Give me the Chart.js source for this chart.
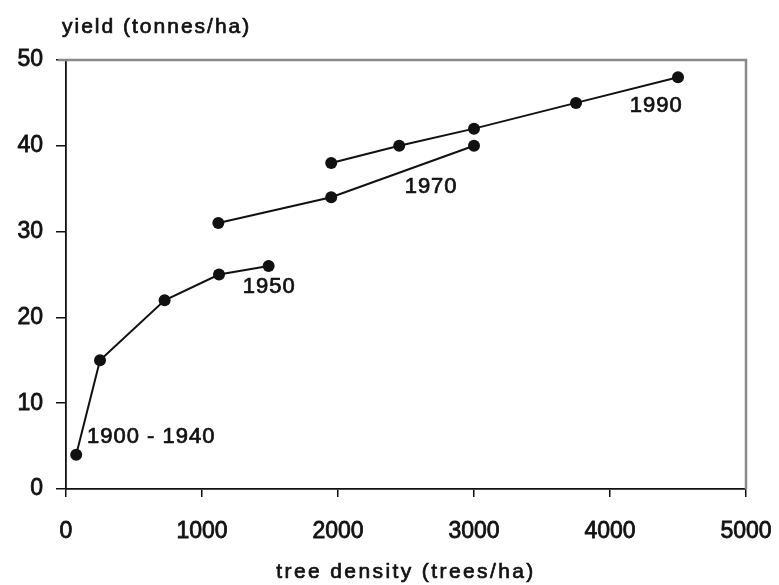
<!DOCTYPE html>
<html>
<head>
<meta charset="utf-8">
<script src="https://cdn.jsdelivr.net/npm/chart.js@4/dist/chart.umd.min.js"></script>
<style>
    body { margin: 0; background: #fff; }
    canvas { display: block; }
</style>
</head>
<body>
<canvas id="chart" width="779" height="585"></canvas>
<script>
// tree density (trees/ha) and yield (tonnes/ha) for each period
const density1900 = [75, 250, 725, 1125, 1490];
const yield1900 = [4, 15, 22, 25, 26];
const density1970 = [1120, 1950, 3000];
const yield1970 = [31, 34, 40];
const density1990 = [1950, 2450, 3000, 3750, 4500];
const yield1990 = [38, 40, 42, 45, 48];

const xTicks = [0, 1000, 2000, 3000, 4000, 5000];
const yTicks = [0, 10, 20, 30, 40, 50];

// labels written next to the lines, anchored in data units
const noteText = ['1900 - 1940', '1950', '1970', '1990'];
const noteX = [154, 1300, 2490, 4145];
const noteY = [5.4, 22.8, 34.5, 43.9];

const yTitle = 'yield (tonnes/ha)';
const xTitle = 'tree density (trees/ha)';

const FONT = '"Liberation Sans", Arial, Helvetica, sans-serif';

function toPoints(xs, ys) {
    const ret = [];
    for (let i = 0; i < xs.length; i++) {
        ret.push({x: xs[i], y: ys[i]});
    }
    return ret;
}

function series(xs, ys) {
    return {
        data: toPoints(xs, ys),
        showLine: true,
        borderColor: '#111',
        backgroundColor: '#111',
        borderWidth: 2,
        pointRadius: 6,
        pointBorderWidth: 0,
        pointHoverRadius: 6,
    };
}

function heavyText(ctx, txt, x, y) {
    ctx.strokeText(txt, x, y);
    ctx.fillText(txt, x, y);
}

const textPlugin = {
    id: 'texts',
    beforeDatasetsDraw(chart) {
        const ctx = chart.ctx;
        const a = chart.chartArea;
        ctx.save();
        ctx.strokeStyle = '#8a8a8a';
        ctx.lineWidth = 2.5;
        ctx.beginPath();
        ctx.moveTo(a.left - 8, a.top);
        ctx.lineTo(a.right, a.top);
        ctx.lineTo(a.right, a.bottom);
        ctx.stroke();
        ctx.restore();
    },
    afterDatasetsDraw(chart) {
        const ctx = chart.ctx;
        const a = chart.chartArea;
        const xs = chart.scales.x;
        const ys = chart.scales.y;
        ctx.save();
        ctx.fillStyle = '#111';
        ctx.strokeStyle = '#111';
        ctx.lineWidth = 0.7;
        ctx.textBaseline = 'alphabetic';
        ctx.textAlign = 'left';
        ctx.letterSpacing = '1px';
        ctx.font = '22px ' + FONT;
        for (let i = 0; i < noteText.length; i++) {
            heavyText(ctx, noteText[i], xs.getPixelForValue(noteX[i]), ys.getPixelForValue(noteY[i]));
        }
        ctx.letterSpacing = '2px';
        ctx.font = '21px ' + FONT;
        heavyText(ctx, yTitle, a.left - 4, 33);
        ctx.letterSpacing = '2.4px';
        ctx.textAlign = 'center';
        heavyText(ctx, xTitle, (a.left + a.right) / 2, 578);
        ctx.restore();
    }
};

window.addEventListener('load', function() {
    const config = {
        type: 'scatter',
        data: {
            datasets: [
                series(density1900, yield1900),
                series(density1970, yield1970),
                series(density1990, yield1990),
            ]
        },
        options: {
            responsive: false,
            animation: false,
            layout: {
                padding: {top: 60, right: 33, left: 0, bottom: 0}
            },
            plugins: {
                legend: {display: false},
                tooltip: {enabled: false},
            },
            scales: {
                x: {
                    type: 'linear',
                    min: 0,
                    max: 5000,
                    afterBuildTicks: (s) => { s.ticks = xTicks.map(v => ({value: v})); },
                    afterFit: (s) => { s.height = 96; s.paddingLeft = 0; s.paddingRight = 0; },
                    grid: {
                        drawOnChartArea: false,
                        tickLength: 8,
                        color: '#111',
                        lineWidth: 1.5,
                    },
                    border: {color: '#111', width: 1.8},
                    ticks: {
                        color: '#111',
                        padding: 21,
                        maxRotation: 0,
                        textStrokeColor: '#111',
                        textStrokeWidth: 0.8,
                        font: {family: FONT, size: 23},
                        callback: (v) => String(v),
                    },
                },
                y: {
                    type: 'linear',
                    min: 0,
                    max: 50,
                    afterBuildTicks: (s) => { s.ticks = yTicks.map(v => ({value: v})); },
                    afterFit: (s) => { s.width = 66; s.paddingTop = 0; s.paddingBottom = 0; },
                    grid: {
                        drawOnChartArea: false,
                        tickLength: 10,
                        color: '#111',
                        lineWidth: 1.5,
                    },
                    border: {color: '#111', width: 1.8},
                    ticks: {
                        color: '#111',
                        padding: 13,
                        textStrokeColor: '#111',
                        textStrokeWidth: 0.8,
                        font: {family: FONT, size: 23},
                        callback: (v) => String(v),
                    },
                },
            },
        },
        plugins: [textPlugin],
    };
    new Chart(document.getElementById('chart'), config);
});
</script>
</body>
</html>
